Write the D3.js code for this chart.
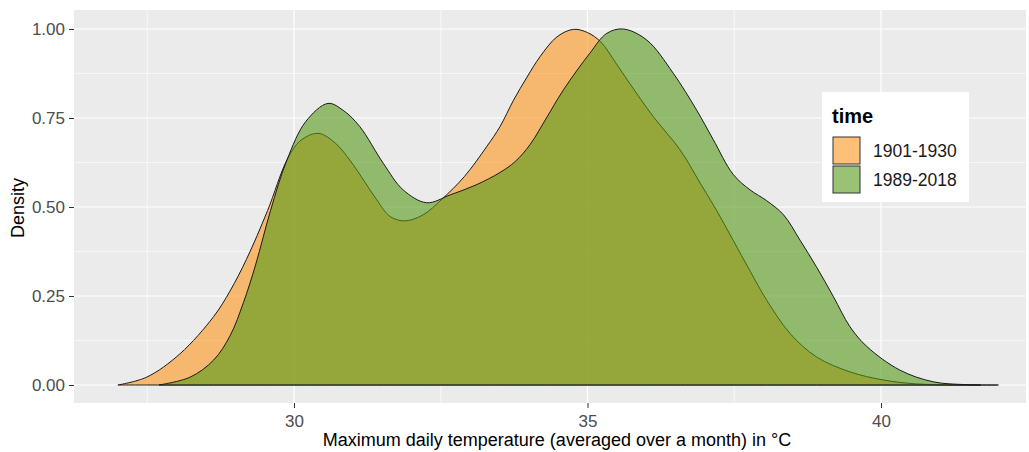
<!DOCTYPE html>
<html><head><meta charset="utf-8">
<script src="https://cdn.jsdelivr.net/npm/d3@7"></script>
<style>body{margin:0;background:#fff}svg{display:block}text{font-family:"Liberation Sans",Arial,sans-serif}</style>
</head><body><svg id="c" width="1029" height="452"></svg>
<script>
const seriesNames = ["1901-1930", "1989-2018"];
const seriesColors = ["#FC961B", "#559917"];
const xTicks = [30, 35, 40];
const yTicks = [0, 0.25, 0.5, 0.75, 1.0];
// [temperature, density]
const early = [[27.0,0],[27.49,0.022],[28.06,0.088],[28.63,0.192],[28.91,0.264],[29.19,0.353],[29.55,0.49],[29.88,0.632],[30.1,0.685],[30.41,0.707],[30.7,0.68],[30.95,0.632],[31.2,0.572],[31.41,0.52],[31.64,0.473],[31.89,0.461],[32.2,0.478],[32.52,0.522],[32.9,0.585],[33.28,0.669],[33.51,0.726],[33.74,0.80],[33.97,0.865],[34.19,0.922],[34.48,0.978],[34.76,0.999],[35.0,0.99],[35.23,0.963],[35.48,0.905],[35.72,0.847],[36.12,0.754],[36.58,0.66],[36.92,0.567],[37.2,0.49],[37.48,0.407],[37.77,0.32],[38.05,0.239],[38.45,0.145],[38.9,0.079],[39.47,0.037],[40.04,0.014],[40.6,0.003],[41.1,0.0005],[41.7,0]];
const recent = [[27.7,0],[28.23,0.022],[28.63,0.07],[28.91,0.138],[29.14,0.232],[29.35,0.34],[29.6,0.49],[29.88,0.632],[30.2,0.74],[30.58,0.791],[30.85,0.77],[31.12,0.726],[31.52,0.623],[31.86,0.548],[32.26,0.512],[32.66,0.534],[33.1,0.562],[33.51,0.597],[33.77,0.628],[34.02,0.675],[34.3,0.75],[34.59,0.829],[35.04,0.932],[35.33,0.988],[35.61,1.0],[36.01,0.969],[36.46,0.876],[36.86,0.772],[37.14,0.69],[37.48,0.592],[37.77,0.548],[38.05,0.518],[38.34,0.478],[38.62,0.407],[38.9,0.332],[39.19,0.248],[39.47,0.164],[39.76,0.108],[40.32,0.042],[40.89,0.009],[41.46,0.001],[42.0,0]];

const svg = d3.select("#c");
const P = {l:74, r:1026, t:10, b:403};
const x = d3.scaleLinear().domain([30, 40]).range([294, 881]);
const y = d3.scaleLinear().domain([0, 1]).range([385, 29]);

svg.append("rect").attr("x",P.l).attr("y",P.t).attr("width",P.r-P.l).attr("height",P.b-P.t).attr("fill","#EBEBEB");
svg.append("clipPath").attr("id","pc").append("rect").attr("x",P.l).attr("y",P.t).attr("width",P.r-P.l).attr("height",P.b-P.t);
const g = svg.append("g").attr("clip-path","url(#pc)");
const xMinor = [27.5, 32.5, 37.5, 42.5];
const yMinor = [0.125, 0.375, 0.625, 0.875];
xMinor.forEach(v=>g.append("line").attr("x1",x(v)).attr("x2",x(v)).attr("y1",P.t).attr("y2",P.b).attr("stroke","#fff").attr("stroke-width",0.6));
yMinor.forEach(v=>g.append("line").attr("y1",y(v)).attr("y2",y(v)).attr("x1",P.l).attr("x2",P.r).attr("stroke","#fff").attr("stroke-width",0.6));
xTicks.forEach(v=>g.append("line").attr("x1",x(v)).attr("x2",x(v)).attr("y1",P.t).attr("y2",P.b).attr("stroke","#fff").attr("stroke-width",1.2));
yTicks.forEach(v=>g.append("line").attr("y1",y(v)).attr("y2",y(v)).attr("x1",P.l).attr("x2",P.r).attr("stroke","#fff").attr("stroke-width",1.2));

const area = d3.area().x(d=>x(d[0])).y0(y(0)).y1(d=>y(Math.max(0,d[1]))).curve(d3.curveCatmullRom.alpha(0.5));
[early, recent].forEach((data,i)=>{
  g.append("path").datum(data).attr("d",area).attr("fill",seriesColors[i]).attr("fill-opacity",0.6)
   .attr("stroke","#1a1a1a").attr("stroke-width",1);
});

const xAxis = d3.axisBottom(x).tickValues(xTicks).tickSize(5).tickPadding(7).tickFormat(d3.format("d"));
const gx = svg.append("g").attr("transform",`translate(0,${P.b})`).call(xAxis);
const yAxis = d3.axisLeft(y).tickValues(yTicks).tickSize(5).tickPadding(4).tickFormat(d3.format(".2f"));
const gy = svg.append("g").attr("transform",`translate(${P.l},0)`).call(yAxis);
[gx,gy].forEach(a=>{
  a.select(".domain").remove();
  a.selectAll(".tick line").attr("stroke","#333").attr("stroke-width",1);
  a.selectAll(".tick text").attr("fill","#4D4D4D").style("font-size","17px");
});

svg.append("text").attr("x",557).attr("y",446).attr("text-anchor","middle").style("font-size","18px").attr("fill","#000")
  .text("Maximum daily temperature (averaged over a month) in °C");
svg.append("text").attr("transform","translate(24,208) rotate(-90)").attr("text-anchor","middle").style("font-size","18px").attr("fill","#000").text("Density");

const lg = svg.append("g");
lg.append("rect").attr("x",822).attr("y",92).attr("width",147).attr("height",110).attr("fill","#fff");
lg.append("text").attr("x",832).attr("y",123).style("font-size","20px").style("font-weight","bold").attr("fill","#000").text("time");
seriesNames.forEach((n,i)=>{
  lg.append("rect").attr("x",833).attr("y",137+i*29).attr("width",27).attr("height",27)
    .attr("fill",seriesColors[i]).attr("fill-opacity",0.6).attr("stroke","#333").attr("stroke-width",1);
  lg.append("text").attr("x",873).attr("y",157+i*29).style("font-size","17.5px").attr("fill","#1a1a1a").text(n);
});
</script></body></html>
